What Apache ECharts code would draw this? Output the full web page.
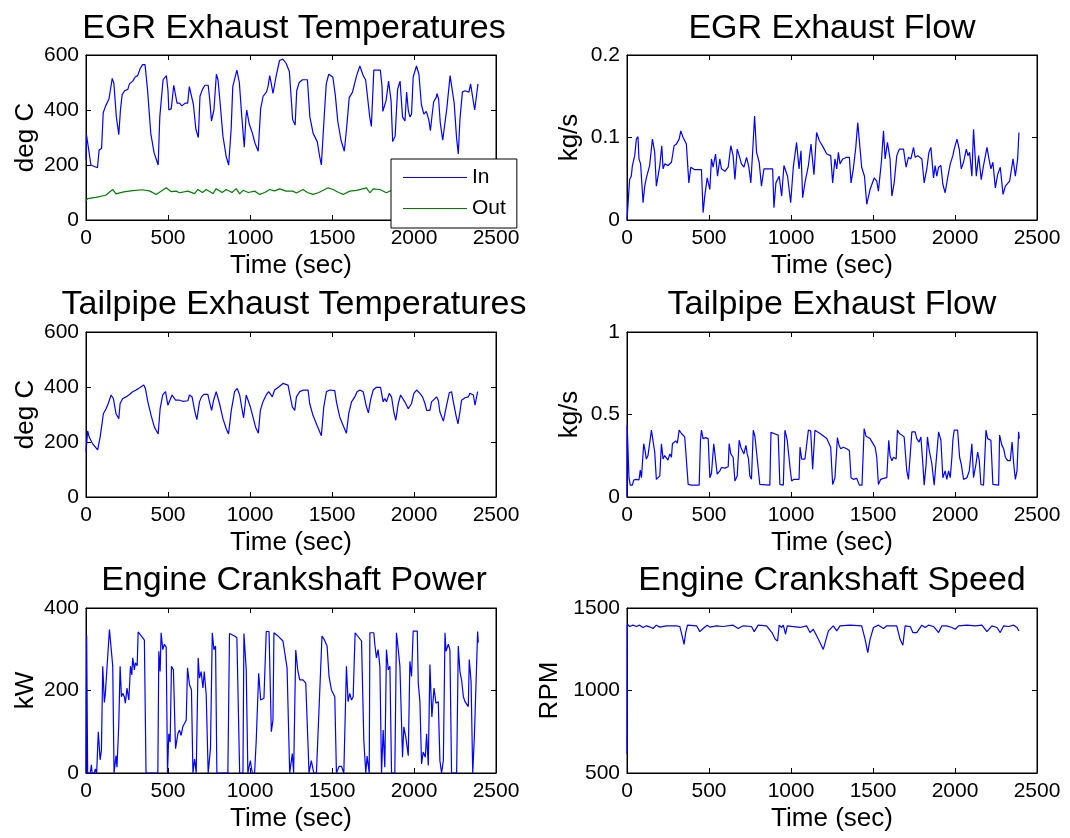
<!DOCTYPE html>
<html><head><meta charset="utf-8">
<script src="https://cdn.jsdelivr.net/npm/echarts@6/dist/echarts.min.js"></script>
<style>html,body{margin:0;padding:0;background:#fff}#c{width:1070px;height:838px}</style>
</head><body><div id="c"></div>
<script>
const xTicks = [0, 2500, 500];
const titles = ['EGR Exhaust Temperatures','EGR Exhaust Flow','Tailpipe Exhaust Temperatures','Tailpipe Exhaust Flow','Engine Crankshaft Power','Engine Crankshaft Speed'];
const yNames = ['deg C','kg/s','deg C','kg/s','kW','RPM'];
const yRanges = [[0,600,200],[0,0.2,0.1],[0,600,200],[0,1,0.5],[0,400,200],[500,1500,500]];
const legendNames = ['In','Out'];

const egrIn = [[0,220],[3,310],[30,200],[70,190],[80,255],[95,260],[105,390],[120,415],[140,440],[160,515],[170,497],[185,375],[200,310],[210,400],[220,455],[235,470],[255,475],[265,495],[285,505],[300,520],[315,525],[330,550],[345,565],[360,565],[375,475],[395,315],[415,245],[440,200],[450,375],[470,510],[490,525],[500,470],[505,400],[520,405],[535,490],[545,485],[555,425],[570,425],[585,415],[605,425],[620,425],[630,485],[640,480],[655,420],[670,330],[685,300],[695,450],[710,475],[725,490],[745,490],[755,435],[765,360],[780,400],[795,530],[805,510],[820,410],[835,305],[855,230],[870,200],[885,330],[895,485],[920,545],[935,500],[950,375],[965,265],[975,370],[980,400],[995,350],[1015,315],[1030,280],[1050,250],[1065,405],[1080,450],[1100,465],[1110,485],[1120,525],[1130,495],[1140,460],[1160,525],[1180,580],[1200,585],[1220,570],[1240,540],[1255,410],[1260,365],[1275,345],[1285,470],[1300,500],[1320,510],[1350,510],[1365,375],[1385,315],[1410,285],[1425,230],[1435,200],[1455,400],[1465,495],[1480,530],[1505,520],[1520,455],[1535,360],[1555,290],[1575,250],[1590,340],[1605,445],[1625,465],[1650,525],[1670,560],[1690,525],[1705,510],[1730,375],[1740,340],[1755,545],[1775,545],[1795,545],[1805,485],[1810,395],[1820,400],[1830,435],[1845,505],[1860,435],[1870,285],[1885,305],[1900,475],[1915,505],[1930,375],[1945,360],[1955,465],[1965,400],[1975,375],[1985,385],[1995,520],[2015,560],[2030,530],[2045,420],[2060,385],[2075,395],[2090,365],[2100,325],[2110,380],[2120,430],[2135,445],[2140,460],[2150,440],[2160,355],[2175,290],[2200,405],[2220,525],[2230,520],[2245,425],[2260,295],[2270,240],[2280,365],[2295,465],[2310,470],[2335,465],[2345,495],[2355,495],[2370,400],[2375,400],[2390,495]];

const egrOut = [[0,70],[10,78],[60,82],[120,90],[163,111],[183,95],[230,102],[285,107],[346,110],[390,105],[428,93],[489,117],[520,103],[550,105],[570,99],[621,105],[662,96],[682,111],[710,100],[733,111],[774,96],[794,114],[830,100],[855,111],[890,100],[916,114],[937,95],[957,108],[990,100],[1028,105],[1059,93],[1090,100],[1120,111],[1150,106],[1181,113],[1220,105],[1262,105],[1283,98],[1323,111],[1350,100],[1384,93],[1420,100],[1476,117],[1507,111],[1540,100],[1568,93],[1608,105],[1650,108],[1710,117],[1731,99],[1751,113],[1792,111],[1832,99],[1870,110],[1910,104],[1950,112],[1990,100],[2030,110],[2070,100],[2110,113],[2150,102],[2190,108],[2230,98],[2270,110],[2310,103],[2350,112],[2390,105]];

const egrFlow = [[0,0],[16,0.049],[26,0.053],[33,0.066],[41,0.064],[47,0.078],[57,0.098],[67,0.101],[73,0.074],[83,0.068],[98,0.021],[108,0.041],[118,0.051],[138,0.066],[155,0.098],[169,0.082],[179,0.041],[200,0.066],[212,0.090],[220,0.062],[230,0.068],[250,0.066],[271,0.070],[287,0.090],[301,0.092],[318,0.098],[328,0.108],[342,0.100],[362,0.092],[377,0.045],[389,0.064],[413,0.061],[454,0.061],[464,0.009],[474,0.029],[489,0.051],[505,0.037],[515,0.074],[525,0.064],[540,0.080],[552,0.053],[566,0.074],[576,0.062],[597,0.059],[617,0.064],[633,0.090],[647,0.078],[658,0.049],[672,0.086],[684,0.078],[698,0.068],[713,0.064],[729,0.076],[743,0.064],[755,0.045],[766,0.082],[778,0.126],[790,0.082],[806,0.070],[820,0.041],[835,0.062],[888,0.062],[896,0.015],[908,0.045],[928,0.053],[943,0.029],[957,0.066],[967,0.064],[979,0.053],[998,0.021],[1014,0.064],[1034,0.094],[1049,0.062],[1061,0.084],[1071,0.027],[1085,0.045],[1106,0.066],[1122,0.092],[1140,0.055],[1156,0.106],[1173,0.096],[1197,0.088],[1218,0.080],[1242,0.078],[1254,0.045],[1268,0.074],[1279,0.062],[1289,0.082],[1299,0.068],[1315,0.074],[1340,0.076],[1356,0.076],[1366,0.045],[1380,0.062],[1395,0.088],[1407,0.118],[1417,0.116],[1431,0.064],[1448,0.053],[1462,0.019],[1482,0.037],[1507,0.051],[1523,0.047],[1533,0.035],[1551,0.070],[1564,0.108],[1574,0.074],[1588,0.094],[1604,0.074],[1615,0.029],[1629,0.045],[1645,0.078],[1661,0.086],[1686,0.086],[1702,0.064],[1716,0.076],[1731,0.074],[1747,0.088],[1757,0.076],[1773,0.078],[1798,0.074],[1812,0.045],[1828,0.062],[1841,0.082],[1853,0.088],[1869,0.051],[1879,0.066],[1889,0.053],[1900,0.064],[1914,0.066],[1926,0.043],[1940,0.033],[1955,0.051],[1971,0.068],[1987,0.078],[1995,0.086],[2012,0.098],[2026,0.086],[2038,0.062],[2052,0.070],[2069,0.086],[2079,0.078],[2089,0.082],[2103,0.053],[2113,0.110],[2130,0.053],[2144,0.078],[2160,0.049],[2174,0.066],[2195,0.088],[2207,0.074],[2219,0.062],[2231,0.070],[2246,0.039],[2260,0.055],[2276,0.064],[2293,0.031],[2307,0.041],[2333,0.047],[2354,0.074],[2368,0.053],[2382,0.074],[2390,0.106]];

const tailTemp = [[0,165],[10,240],[20,217],[41,193],[71,171],[86,217],[98,223],[106,303],[122,321],[136,340],[153,371],[167,358],[183,303],[200,285],[208,340],[224,358],[244,364],[265,373],[285,383],[305,389],[322,395],[336,401],[352,407],[362,395],[377,346],[397,297],[417,254],[440,229],[452,321],[468,371],[485,383],[499,334],[509,340],[525,371],[535,377],[546,352],[570,352],[590,348],[621,350],[631,371],[647,364],[662,315],[676,281],[692,346],[704,364],[719,373],[743,373],[753,346],[766,315],[778,352],[794,383],[804,387],[814,340],[835,285],[855,248],[869,229],[886,315],[906,383],[922,395],[937,371],[949,328],[961,288],[977,371],[987,364],[1002,328],[1018,291],[1034,254],[1051,232],[1063,315],[1079,346],[1099,371],[1114,383],[1126,377],[1136,364],[1150,389],[1177,401],[1201,413],[1232,407],[1246,364],[1258,328],[1273,315],[1283,364],[1303,383],[1327,389],[1354,389],[1364,340],[1384,297],[1409,260],[1435,223],[1450,328],[1466,383],[1486,389],[1517,387],[1527,346],[1547,291],[1568,260],[1588,232],[1602,303],[1619,346],[1639,364],[1653,383],[1670,389],[1680,395],[1690,383],[1710,328],[1722,306],[1735,352],[1751,389],[1771,399],[1796,399],[1812,346],[1822,358],[1832,346],[1849,377],[1863,364],[1877,309],[1889,279],[1904,340],[1918,371],[1930,364],[1944,346],[1955,352],[1965,321],[1975,315],[1985,340],[1999,377],[2016,389],[2036,377],[2052,364],[2067,340],[2077,315],[2089,309],[2097,315],[2107,346],[2117,352],[2138,364],[2148,352],[2158,309],[2179,276],[2199,334],[2215,379],[2229,383],[2240,346],[2256,297],[2268,266],[2280,309],[2290,352],[2311,361],[2331,364],[2341,377],[2352,383],[2362,371],[2372,334],[2378,340],[2388,383]];

const tailFlow = [[0,0],[1,0.436],[12,0.117],[20,0.072],[33,0.072],[41,0.103],[57,0.107],[73,0.103],[81,0.163],[88,0.117],[94,0.123],[102,0.323],[110,0.282],[118,0.230],[128,0.251],[138,0.241],[149,0.405],[159,0.405],[169,0.272],[179,0.107],[189,0.107],[200,0.128],[210,0.323],[220,0.230],[230,0.251],[240,0.241],[250,0.224],[261,0.261],[271,0.241],[277,0.323],[287,0.313],[297,0.340],[307,0.327],[318,0.405],[332,0.385],[352,0.364],[362,0.364],[373,0.076],[393,0.072],[440,0.072],[448,0.344],[454,0.405],[464,0.354],[480,0.360],[495,0.354],[505,0.117],[515,0.142],[529,0.323],[540,0.313],[550,0.138],[566,0.158],[576,0.179],[597,0.175],[617,0.183],[623,0.323],[633,0.261],[647,0.241],[658,0.097],[672,0.128],[684,0.344],[694,0.302],[702,0.307],[713,0.261],[725,0.313],[733,0.261],[741,0.230],[749,0.128],[759,0.107],[770,0.405],[780,0.368],[790,0.364],[810,0.076],[871,0.072],[878,0.392],[896,0.385],[922,0.375],[932,0.076],[953,0.072],[963,0.405],[977,0.344],[994,0.179],[1004,0.097],[1018,0.107],[1049,0.107],[1055,0.302],[1065,0.230],[1085,0.230],[1095,0.230],[1106,0.405],[1120,0.401],[1132,0.169],[1146,0.405],[1177,0.385],[1218,0.354],[1242,0.302],[1254,0.076],[1268,0.117],[1283,0.360],[1293,0.313],[1303,0.292],[1319,0.302],[1340,0.292],[1356,0.282],[1366,0.117],[1380,0.107],[1401,0.113],[1417,0.072],[1433,0.072],[1446,0.415],[1458,0.368],[1482,0.354],[1513,0.302],[1523,0.241],[1533,0.076],[1547,0.107],[1564,0.113],[1584,0.117],[1596,0.344],[1604,0.251],[1615,0.220],[1625,0.241],[1641,0.230],[1649,0.405],[1661,0.385],[1676,0.375],[1690,0.364],[1706,0.158],[1716,0.107],[1737,0.395],[1757,0.395],[1767,0.354],[1781,0.333],[1792,0.364],[1804,0.200],[1812,0.072],[1824,0.200],[1832,0.364],[1843,0.282],[1859,0.200],[1873,0.072],[1885,0.072],[1900,0.395],[1914,0.344],[1926,0.117],[1940,0.158],[1950,0.107],[1961,0.158],[1971,0.117],[1981,0.241],[1987,0.344],[1995,0.405],[2016,0.405],[2028,0.241],[2038,0.200],[2052,0.107],[2073,0.117],[2087,0.158],[2103,0.323],[2113,0.117],[2128,0.200],[2138,0.272],[2148,0.220],[2158,0.076],[2174,0.072],[2189,0.405],[2199,0.354],[2219,0.344],[2231,0.076],[2266,0.072],[2272,0.375],[2286,0.313],[2297,0.292],[2307,0.241],[2321,0.220],[2337,0.220],[2348,0.333],[2358,0.200],[2368,0.107],[2378,0.158],[2388,0.395],[2392,0.354]];

const enginePower = [[0,0],[4,334],[10,0],[26,0],[33,20],[37,0],[51,0],[57,10],[65,0],[75,100],[86,32],[94,55],[102,259],[112,171],[118,193],[130,189],[143,348],[155,347],[163,259],[171,0],[183,42],[189,14],[200,120],[208,259],[216,185],[224,193],[234,185],[240,169],[250,206],[261,177],[265,208],[271,259],[279,238],[285,279],[295,250],[301,267],[312,260],[318,342],[338,332],[356,322],[366,0],[438,0],[444,295],[452,246],[458,340],[468,299],[478,312],[489,305],[497,0],[505,95],[513,75],[521,259],[533,250],[546,59],[560,95],[570,104],[580,91],[590,112],[601,116],[611,128],[619,255],[631,214],[643,202],[652,0],[662,34],[672,0],[684,279],[692,230],[702,246],[713,206],[721,246],[733,189],[745,0],[759,59],[770,340],[780,299],[790,308],[798,0],[865,0],[875,338],[906,332],[920,328],[937,0],[957,0],[963,338],[977,250],[987,0],[1002,30],[1014,0],[1028,0],[1038,79],[1053,242],[1065,177],[1085,181],[1099,343],[1116,343],[1130,100],[1140,128],[1146,340],[1171,332],[1201,320],[1226,255],[1242,0],[1258,47],[1266,0],[1279,298],[1291,250],[1303,226],[1323,226],[1340,218],[1352,218],[1360,0],[1374,30],[1389,0],[1405,0],[1439,332],[1452,324],[1470,308],[1482,234],[1496,202],[1517,185],[1527,0],[1543,16],[1558,16],[1572,0],[1588,259],[1598,173],[1608,193],[1619,177],[1629,185],[1641,340],[1653,336],[1680,320],[1694,79],[1706,0],[1714,41],[1727,0],[1731,340],[1755,340],[1761,312],[1771,279],[1781,299],[1792,259],[1802,0],[1812,104],[1822,14],[1832,299],[1843,250],[1853,259],[1863,0],[1883,0],[1893,340],[1904,299],[1914,259],[1930,38],[1938,112],[1950,87],[1965,42],[1975,271],[1985,234],[1995,344],[2020,344],[2026,218],[2036,173],[2046,22],[2056,51],[2069,38],[2077,95],[2087,18],[2097,263],[2109,136],[2122,206],[2134,169],[2148,173],[2158,30],[2168,0],[2179,30],[2189,340],[2195,295],[2209,312],[2219,299],[2229,0],[2260,0],[2270,308],[2280,246],[2290,226],[2301,185],[2311,173],[2321,171],[2331,161],[2337,275],[2348,222],[2358,0],[2368,87],[2378,89],[2388,343],[2392,316]];

const engineSpeed = [[0,615],[2,1402],[16,1388],[37,1396],[57,1388],[77,1396],[98,1382],[118,1392],[138,1386],[159,1376],[179,1396],[200,1384],[240,1392],[301,1392],[322,1388],[336,1331],[348,1280],[358,1351],[369,1396],[424,1392],[436,1392],[444,1357],[464,1376],[489,1396],[505,1384],[546,1392],[586,1388],[647,1396],[678,1376],[709,1392],[759,1388],[776,1357],[800,1396],[851,1392],[884,1351],[904,1310],[918,1300],[928,1396],[943,1382],[953,1396],[967,1341],[977,1392],[1055,1382],[1095,1392],[1116,1351],[1136,1371],[1167,1310],[1197,1249],[1228,1361],[1258,1392],[1279,1361],[1299,1392],[1360,1396],[1431,1392],[1452,1310],[1468,1229],[1482,1310],[1503,1382],[1533,1396],[1564,1376],[1584,1392],[1645,1392],[1665,1310],[1682,1274],[1696,1392],[1727,1388],[1743,1351],[1767,1351],[1798,1396],[1818,1382],[1838,1396],[1869,1388],[1900,1351],[1920,1392],[1950,1392],[1981,1382],[2001,1371],[2022,1392],[2073,1396],[2124,1392],[2164,1396],[2195,1357],[2225,1392],[2256,1382],[2276,1351],[2297,1392],[2327,1388],[2358,1396],[2378,1382],[2390,1361]];

const FONT = '"Liberation Sans", Arial, Helvetica, sans-serif';
const BLUE = '#0000ff', GREEN = '#008000';
const panelSeries = [
  [{name: legendNames[0], data: egrIn, color: BLUE}, {name: legendNames[1], data: egrOut, color: GREEN}],
  [{name: 'flow1', data: egrFlow, color: BLUE}],
  [{name: 'temp2', data: tailTemp, color: BLUE}],
  [{name: 'flow2', data: tailFlow, color: BLUE}],
  [{name: 'power', data: enginePower, color: BLUE}],
  [{name: 'speed', data: engineSpeed, color: BLUE}]
];
const yNameGaps = [47, 44, 47, 44, 47, 64];
const colLeft = [86, 627], rowTop = [55, 332, 608], W = 410, H = 165;
const titleShift = [3, 0];
const fmt = v => String(v);

const grid = [], xAxis = [], yAxis = [], series = [], title = [];
const tick = {show: true, inside: true, length: 5, lineStyle: {color: '#000', width: 1}};
const line = {show: true, onZero: false, lineStyle: {color: '#000', width: 1}};
const titleTops = [12, 288, 564];
for (let i = 0; i < 6; i++) {
  const c = i % 2, r = Math.floor(i / 2);
  grid.push({left: colLeft[c], top: rowTop[r], width: W, height: H, show: true, borderColor: '#000', borderWidth: 1, backgroundColor: '#fff'});
  title.push({text: titles[i], left: colLeft[c] + W / 2 + titleShift[c], top: titleTops[r], textAlign: 'center', padding: 0,
    textStyle: {fontSize: 34, fontWeight: 'normal', color: '#000', fontFamily: FONT}});
  xAxis.push({type: 'value', gridIndex: i, min: xTicks[0], max: xTicks[1], interval: xTicks[2],
    name: 'Time (sec)', nameLocation: 'middle', nameGap: 33, nameMoveOverlap: false,
    nameTextStyle: {fontSize: 26, color: '#000', fontFamily: FONT},
    axisLine: line, axisTick: tick, splitLine: {show: false},
    axisLabel: {fontSize: 21, color: '#000', fontFamily: FONT, margin: 8, formatter: fmt, showMinLabel: true, showMaxLabel: true, hideOverlap: false}});
  xAxis.push({type: 'value', gridIndex: i, position: 'top', min: xTicks[0], max: xTicks[1], interval: xTicks[2],
    axisLine: line, axisTick: tick, splitLine: {show: false}, axisLabel: {show: false}});
  const yr = yRanges[i];
  yAxis.push({type: 'value', gridIndex: i, min: yr[0], max: yr[1], interval: yr[2],
    name: yNames[i], nameLocation: 'middle', nameGap: yNameGaps[i], nameMoveOverlap: false,
    nameTextStyle: {fontSize: 26, color: '#000', fontFamily: FONT},
    axisLine: line, axisTick: tick, splitLine: {show: false},
    axisLabel: {fontSize: 21, color: '#000', fontFamily: FONT, margin: 7, formatter: fmt, showMinLabel: true, showMaxLabel: true, hideOverlap: false}});
  yAxis.push({type: 'value', gridIndex: i, position: 'right', min: yr[0], max: yr[1], interval: yr[2],
    axisLine: line, axisTick: tick, splitLine: {show: false}, axisLabel: {show: false}});
  panelSeries[i].forEach(s => {
    series.push({type: 'line', name: s.name, xAxisIndex: 2 * i, yAxisIndex: 2 * i, data: s.data,
      showSymbol: false, symbol: 'none', smooth: false, clip: true,
      lineStyle: {color: s.color, width: 1.2}, itemStyle: {color: s.color}, emphasis: {disabled: true}});
  });
}

const chart = echarts.init(document.getElementById('c'), null, {renderer: 'canvas'});
chart.setOption({
  animation: false,
  backgroundColor: '#fff',
  title, grid, xAxis, yAxis, series,
  tooltip: {show: false},
  legend: {data: legendNames, orient: 'vertical', left: 391, top: 159, padding: [8, 11, 9, 12],
    itemGap: 10, itemWidth: 64, itemHeight: 1, icon: 'rect', borderColor: '#000', borderWidth: 1,
    backgroundColor: '#fff', borderRadius: 0, z: 10, selectedMode: false,
    textStyle: {fontSize: 21, lineHeight: 20, color: '#000', fontFamily: FONT}}
});
</script></body></html>
